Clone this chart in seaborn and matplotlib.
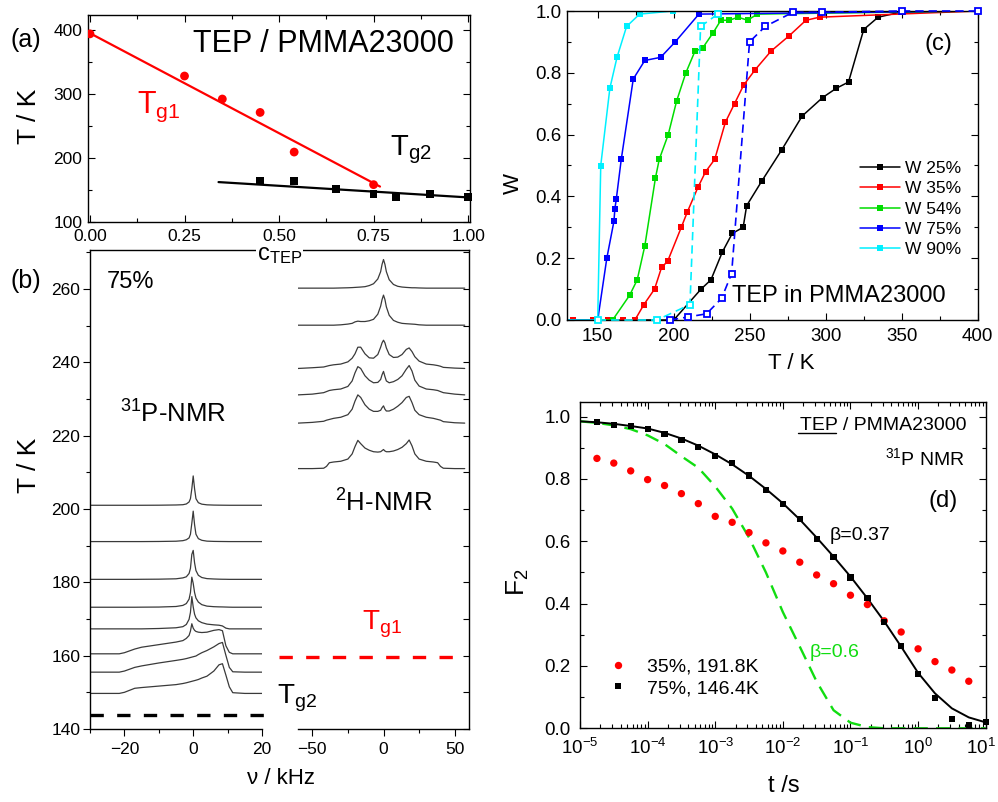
import numpy as np
import pandas as pd
import matplotlib
matplotlib.use("Agg")
import matplotlib.pyplot as plt
import matplotlib.transforms as mtransforms
import seaborn as sns
from matplotlib.ticker import MultipleLocator, FormatStrFormatter, LogLocator, NullFormatter
from matplotlib.lines import Line2D

# ------------------------------------------------------------------ data
# (a) glass transition temperatures vs TEP concentration
c_tg1 = [0.0, 0.25, 0.35, 0.45, 0.54, 0.75]
T_tg1 = [394, 328, 292, 271, 209, 158]
c_tg2 = [0.45, 0.54, 0.65, 0.75, 0.81, 0.90, 1.00]
T_tg2 = [164, 164, 151, 143, 139, 143, 139]
c_fit1 = [0.0, 0.767]
T_fit1 = [395, 155]
c_fit2 = [0.34, 1.0]
T_fit2 = [162, 138]

# (b) 31P spectra (75 %)
nu_p = [-30, -21.5, -20, -17, -15, -10, -5, -3, -2, -1.2, -0.8, -0.4, 0, 0.4, 0.8,
        1.5, 2.5, 4, 6, 7.5, 8.5, 9.5, 10.5, 11.5, 15, 20]
p_T = [201.0, 191.1, 180.8, 173.2, 167.3, 160.5, 155.5, 149.7]
p_I1 = [0, 0, 0, 0, 0, 0.02, 0.08, 0.15, 0.35, 0.9, 1.8, 4.5, 8.0, 4.5, 1.8, 0.7, 0.3, 0.12, 0.05, 0.03, 0.02, 0.01, 0, 0, 0, 0]
p_I2 = [0, 0, 0, 0, 0, 0.03, 0.1, 0.25, 0.5, 1.0, 2.0, 5.0, 8.3, 4.6, 2.0, 0.8, 0.35, 0.12, 0.05, 0.03, 0.02, 0.01, 0, 0, 0, 0]
p_I3 = [0, 0, 0, 0, 0.02, 0.05, 0.15, 0.4, 0.7, 1.6, 3.0, 6.8, 7.9, 4.5, 2.4, 1.1, 0.5, 0.2, 0.1, 0.05, 0.03, 0.02, 0, 0, 0, 0]
p_I4 = [0, 0, 0, 0, 0.02, 0.05, 0.2, 0.5, 1.0, 2.2, 4.0, 8.2, 6.5, 4.0, 2.5, 1.4, 0.7, 0.3, 0.15, 0.1, 0.08, 0.05, 0.02, 0, 0, 0]
p_I5 = [0, 0, 0, 0, 0, 0.1, 0.3, 0.6, 1.2, 2.6, 4.5, 8.8, 6.0, 4.0, 3.0, 2.2, 1.7, 1.3, 1.1, 1.0, 0.8, 0.2, 0, 0, 0, 0]
p_I6 = [0, 0, 0.3, 1.3, 1.8, 2.5, 3.2, 3.6, 4.2, 5.0, 6.2, 8.2, 7.0, 6.4, 6.1, 5.9, 5.8, 5.9, 6.4, 6.6, 6.3, 2.2, 0.4, 0, 0, 0]
p_I7 = [0, 0, 0.3, 1.3, 1.7, 2.5, 3.2, 3.5, 3.7, 3.9, 4.0, 4.1, 4.2, 4.3, 4.4, 4.8, 5.3, 5.9, 6.9, 7.8, 8.1, 4.6, 1.3, 0.1, 0, 0]
p_I8 = [0, 0, 0.3, 1.4, 1.6, 2.0, 2.4, 2.7, 2.9, 3.1, 3.2, 3.3, 3.4, 3.5, 3.6, 3.8, 4.2, 4.7, 6.1, 7.8, 8.1, 5.0, 1.8, 0.2, 0, 0]

# (b) 2H spectra
nu_h = [-60, -50, -42, -40, -38, -35, -30, -25, -22, -20, -18, -16, -13, -10, -7, -4, -2, -1, 0,
        1, 2, 4, 7, 10, 13, 16, 18, 20, 22, 25, 30, 35, 38, 40, 42, 50, 57]
h_T = [260.2, 250.1, 238.3, 231.1, 223.4, 211.0]
h_I1 = [0, 0, 0, 0, 0, 0, 0.05, 0.1, 0.15, 0.2, 0.25, 0.3, 0.4, 0.7, 1.2, 2.5, 4.5, 6.5, 7.8, 6.5, 4.5, 2.3, 1.0, 0.5, 0.3, 0.2, 0.15, 0.1, 0.1, 0.05, 0, 0, 0, 0, 0, 0, 0]
h_I2 = [0, 0, 0, 0, 0, 0, 0.1, 0.3, 0.5, 0.9, 1.1, 1.0, 1.0, 1.2, 1.6, 3.0, 5.2, 7.0, 8.2, 7.0, 5.0, 2.7, 1.3, 0.8, 0.5, 0.4, 0.35, 0.3, 0.25, 0.1, 0, 0, 0, 0, 0, 0, 0]
h_I3 = [0, 0.2, 0.4, 0.6, 0.8, 1.0, 1.2, 1.8, 2.8, 4.0, 5.8, 5.8, 4.0, 2.9, 2.8, 3.8, 5.8, 7.0, 7.7, 7.0, 5.6, 3.8, 3.0, 3.1, 3.8, 5.2, 5.6, 4.6, 3.2, 2.0, 1.2, 1.0, 0.8, 0.6, 0.3, 0.1, 0]
h_I4 = [0, 0.2, 0.6, 0.9, 1.2, 1.4, 1.6, 2.3, 3.8, 6.0, 7.7, 7.2, 5.2, 4.0, 3.3, 3.4, 4.2, 5.5, 6.4, 5.0, 3.8, 3.3, 3.6, 4.2, 5.2, 7.0, 8.0, 6.5, 4.0, 2.4, 1.6, 1.4, 1.2, 0.9, 0.6, 0.2, 0]
h_I5 = [0, 0.2, 0.5, 0.8, 1.0, 1.3, 1.6, 2.3, 3.8, 6.0, 7.7, 7.0, 5.0, 3.8, 3.2, 3.2, 3.5, 4.2, 4.7, 3.8, 3.3, 3.3, 3.8, 4.6, 5.6, 7.0, 7.3, 5.6, 3.5, 2.3, 1.6, 1.3, 1.0, 0.8, 0.4, 0.1, 0]
h_I6 = [0, 0, 0.1, 0.6, 1.6, 1.8, 2.0, 2.6, 4.0, 6.0, 7.7, 6.8, 5.6, 5.0, 4.6, 4.5, 4.6, 4.9, 5.2, 4.8, 4.6, 4.6, 4.8, 5.2, 5.8, 6.8, 7.8, 6.2, 4.0, 2.6, 2.0, 1.8, 1.6, 0.6, 0.1, 0, 0]

Tg2_level = 143.8
Tg2_span = [-30, 23]
Tg1_level = 159.7
Tg1_span = [-73, 56]

# (c) fraction W of fast TEP
T25 = [130, 200, 218, 224.5, 232, 238.5, 245.7, 248, 258, 271, 284.5, 298, 307, 315, 325, 334.5, 350, 400]
W25 = [0, 0.0, 0.10, 0.13, 0.22, 0.28, 0.30, 0.37, 0.45, 0.55, 0.66, 0.72, 0.75, 0.77, 0.94, 0.98, 0.997, 1.0]
T35 = [130, 134, 147, 157, 166.5, 174.5, 180.4, 187.4, 192, 196, 205, 209, 216, 221, 227, 234, 240, 246,
       253.6, 264, 276, 287, 296, 400]
W35 = [0, 0, 0, 0, 0, 0, 0.05, 0.10, 0.17, 0.19, 0.30, 0.35, 0.43, 0.48, 0.52, 0.64, 0.70, 0.76,
       0.81, 0.87, 0.92, 0.97, 0.98, 1.0]
T54 = [130, 159.8, 171, 176, 181, 188, 190.5, 196.4, 202, 208, 214, 219, 226, 231, 236.5, 242.4, 248.6, 255, 400]
W54 = [0, 0, 0.08, 0.13, 0.24, 0.46, 0.52, 0.60, 0.71, 0.80, 0.87, 0.88, 0.93, 0.97, 0.97, 0.98, 0.97, 0.99, 1.0]
T75 = [130, 150, 156, 160.7, 161.3, 162.2, 165.5, 173.4, 181, 191.4, 201, 216.6, 400]
W75 = [0, 0, 0.20, 0.32, 0.36, 0.39, 0.52, 0.78, 0.84, 0.85, 0.90, 0.99, 1.0]
T90 = [130, 150, 152, 158, 162.7, 169, 177.6, 199.6, 400]
W90 = [0, 0.0, 0.50, 0.75, 0.85, 0.95, 0.99, 1.0, 1.0]
T75_open = [197.5, 209.6, 221.6, 231.5, 238.1, 249.9, 260.2, 278.5, 297.7, 350, 400]
W75_open = [0.0, 0.01, 0.02, 0.07, 0.15, 0.90, 0.95, 0.996, 0.996, 1.0, 1.0]
T90_open = [150, 189, 210.7, 217.7, 229]
W90_open = [0.0, 0.0, 0.05, 0.95, 0.99]
legend_c = ["W 25%", "W 35%", "W 54%", "W 75%", "W 90%"]

# (d) stimulated-echo decays F2(t)
t_pts = [1.78e-5, 3.16e-5, 5.62e-5, 1e-4, 1.78e-4, 3.16e-4, 5.62e-4, 1e-3, 1.78e-3, 3.16e-3,
         5.62e-3, 1e-2, 1.78e-2, 3.16e-2, 5.62e-2, 1e-1, 1.78e-1, 3.16e-1, 5.62e-1, 1.0,
         1.78, 3.16, 5.62, 10.0]
F_75 = [0.982, 0.974, 0.971, 0.960, 0.944, 0.925, 0.903, 0.874, 0.852, 0.811, 0.765, 0.719,
        0.671, 0.607, 0.549, 0.484, 0.418, 0.342, 0.264, 0.173, 0.096, 0.031, 0.009, 0.019]
F_35 = [0.866, 0.851, 0.826, 0.798, 0.779, 0.753, 0.721, 0.680, 0.661, 0.628, 0.595, 0.569,
        0.533, 0.492, 0.464, 0.427, 0.397, 0.345, 0.309, 0.255, 0.214, 0.187, 0.151]
t_fit = [1e-5, 1.78e-5, 3.16e-5, 5.62e-5, 1e-4, 1.78e-4, 3.16e-4, 5.62e-4, 1e-3, 1.78e-3, 3.16e-3,
         5.62e-3, 1e-2, 1.78e-2, 3.16e-2, 5.62e-2, 1e-1, 1.78e-1, 3.16e-1, 5.62e-1, 1.0, 1.78,
         3.16, 5.62, 10.0]
F_fit037 = [0.985, 0.982, 0.977, 0.970, 0.962, 0.948, 0.930, 0.907, 0.879, 0.847, 0.810, 0.768,
            0.722, 0.670, 0.612, 0.551, 0.487, 0.417, 0.343, 0.262, 0.178, 0.112, 0.064, 0.035, 0.019]
F_fit06 = [0.985, 0.980, 0.972, 0.960, 0.940, 0.912, 0.873, 0.836, 0.776, 0.705, 0.612, 0.500,
           0.373, 0.262, 0.150, 0.058, 0.018, 0.004, 0.0, 0.0, 0.0, 0.0, 0.0, 0.0, 0.0]
legend_d = ["35%, 191.8K", "75%, 146.4K"]
t_decades = [-5, -4, -3, -2, -1, 0, 1]

# ------------------------------------------------------------------ style
sns.set_theme(style="ticks")
plt.rcParams.update({
    "font.family": ["Liberation Sans", "DejaVu Sans"],
    "mathtext.fontset": "custom",
    "mathtext.rm": "Liberation Sans",
    "mathtext.it": "Liberation Sans:italic",
    "mathtext.bf": "Liberation Sans:bold",
    "mathtext.default": "regular",
    "axes.edgecolor": "black",
    "axes.labelcolor": "black",
    "text.color": "black",
    "xtick.color": "black",
    "ytick.color": "black",
    "axes.facecolor": "white",
    "figure.facecolor": "white",
})

W, H = 998, 802
fig = plt.figure(figsize=(W / 100, H / 100), dpi=100)


def fx(x):
    return x / W


def fy(y):
    return 1 - y / H


def rect(l, t, r, b):
    return [fx(l), fy(b), (r - l) / W, (b - t) / H]


def inward(ax, lsize):
    ax.tick_params(which="both", direction="in", top=True, right=True, bottom=True, left=True,
                   labelsize=lsize, width=0.8, colors="black")
    ax.tick_params(which="major", length=5)
    ax.tick_params(which="minor", length=2.8)
    for s in ax.spines.values():
        s.set_color("black")
        s.set_linewidth(1.0)


# ------------------------------------------------------------------ (b) spectra
ax_bl = fig.add_axes(rect(90, 250, 262, 729))
ax_br = fig.add_axes(rect(298, 250, 469, 729))
spec_col = "#3a3a3a"
for T0, I in zip(p_T, [p_I1, p_I2, p_I3, p_I4, p_I5, p_I6, p_I7, p_I8]):
    sns.lineplot(x=nu_p, y=np.array(I) + T0, ax=ax_bl, color=spec_col, lw=0.9,
                 estimator=None, sort=False)
for T0, I in zip(h_T, [h_I1, h_I2, h_I3, h_I4, h_I5, h_I6]):
    sns.lineplot(x=nu_h, y=np.array(I) + T0, ax=ax_br, color=spec_col, lw=0.9,
                 estimator=None, sort=False)
ax_bl.plot(Tg2_span, [Tg2_level] * 2, color="black", lw=2.4, dashes=(4, 4), clip_on=False)
ax_br.plot(Tg1_span, [Tg1_level] * 2, color="red", lw=2.4, dashes=(4, 4), clip_on=False)

for ax in (ax_bl, ax_br):
    ax.set_ylim(140, 270.6)
    ax.set_xlabel("")
    ax.set_ylabel("")
    for s in ax.spines.values():
        s.set_color("black")
        s.set_linewidth(1.0)
ax_bl.set_xlim(-30, 20)
ax_br.set_xlim(-60, 60)
ax_bl.spines["right"].set_visible(False)
ax_br.spines["left"].set_visible(False)
ax_bl.xaxis.set_major_locator(MultipleLocator(20))
ax_bl.xaxis.set_minor_locator(MultipleLocator(10))
ax_bl.yaxis.set_major_locator(MultipleLocator(20))
ax_bl.yaxis.set_minor_locator(MultipleLocator(10))
ax_bl.tick_params(which="both", direction="out", top=False, right=False, labelsize=12.5, width=0.8)
ax_bl.tick_params(which="major", length=5)
ax_bl.tick_params(which="minor", length=3)
ax_bl.tick_params(axis="x", pad=4)
ax_bl.tick_params(axis="y", pad=2)
ax_br.xaxis.set_major_locator(MultipleLocator(50))
ax_br.xaxis.set_minor_locator(MultipleLocator(25))
ax_br.yaxis.set_major_locator(MultipleLocator(10))
ax_br.yaxis.tick_right()
ax_br.tick_params(axis="y", which="both", direction="in", left=False, right=True,
                  labelright=False, labelleft=False, length=4, width=0.8)
ax_br.tick_params(axis="x", which="both", direction="out", top=False, labelsize=12.5, width=0.8, pad=4)
ax_br.tick_params(axis="x", which="major", length=5)
ax_br.tick_params(axis="x", which="minor", length=3)

# ------------------------------------------------------------------ (a)
ax_a = fig.add_axes(rect(87.7, 15, 470, 221.7))
sns.lineplot(x=c_fit1, y=T_fit1, ax=ax_a, color="red", lw=1.6, estimator=None, sort=False)
sns.lineplot(x=c_fit2, y=T_fit2, ax=ax_a, color="black", lw=1.6, estimator=None, sort=False)
sns.scatterplot(x=c_tg1, y=T_tg1, ax=ax_a, color="red", marker="o", s=40, edgecolor="none", zorder=4)
sns.scatterplot(x=c_tg2, y=T_tg2, ax=ax_a, color="black", marker="s", s=30, edgecolor="none", zorder=4,
                clip_on=False)
ax_a.set_xlim(-0.006, 1.005)
ax_a.set_ylim(100, 423.5)
ax_a.set_xlabel("")
ax_a.set_ylabel("")
ax_a.xaxis.set_major_locator(MultipleLocator(0.25))
ax_a.xaxis.set_minor_locator(MultipleLocator(0.125))
ax_a.xaxis.set_major_formatter(FormatStrFormatter("%.2f"))
ax_a.yaxis.set_major_locator(MultipleLocator(100))
ax_a.yaxis.set_minor_locator(MultipleLocator(50))
inward(ax_a, 12.5)
ax_a.tick_params(axis="x", pad=5)
ax_a.tick_params(axis="y", pad=4)

# ------------------------------------------------------------------ (c)
ax_c = fig.add_axes(rect(567.3, 11, 977.7, 320))
col_c = ["black", "red", "#00dd00", "blue", "#00f0ff"]
for (Tx, Wy), col in zip([(T25, W25), (T35, W35), (T54, W54), (T75, W75), (T90, W90)], col_c):
    sns.lineplot(x=Tx, y=Wy, ax=ax_c, color=col, lw=1.1, marker="s", markersize=3.8,
                 markeredgewidth=0, markevery=list(range(1, len(Tx) - 1)),
                 estimator=None, sort=False)
ax_c.plot(T90_open, W90_open, color="#00f0ff", lw=1.2, dashes=(5, 3), marker="s", ms=5,
          mfc="white", mec="#00f0ff", mew=1.3, clip_on=False, zorder=3)
ax_c.plot(T75_open, W75_open, color="blue", lw=1.2, dashes=(5, 3), marker="s", ms=5,
          mfc="white", mec="blue", mew=1.3, clip_on=False, zorder=3)
ax_c.set_xlim(130, 400)
ax_c.set_ylim(0, 1)
ax_c.set_xlabel("")
ax_c.set_ylabel("")
ax_c.xaxis.set_major_locator(MultipleLocator(50))
ax_c.xaxis.set_minor_locator(MultipleLocator(25))
ax_c.yaxis.set_major_locator(MultipleLocator(0.2))
ax_c.yaxis.set_minor_locator(MultipleLocator(0.1))
ax_c.yaxis.set_major_formatter(FormatStrFormatter("%.1f"))
inward(ax_c, 13.5)
ax_c.tick_params(axis="x", pad=6)
ax_c.tick_params(axis="y", pad=4)
handles_c = [Line2D([], [], color=col, lw=1.1, marker="s", ms=4.5, mew=0) for col in col_c]
ax_c.legend(handles_c, legend_c, loc="upper left", bbox_to_anchor=(0.713, 0.515), frameon=False,
            fontsize=12.5, borderpad=0, handlelength=2.3, handletextpad=0.3, labelspacing=0.3,
            borderaxespad=0)

# ------------------------------------------------------------------ (d)
ax_d = fig.add_axes(rect(580, 401.7, 985.7, 728.3))
ax_d.set_xscale("log")
ax_d.plot(t_fit, F_fit06, color="#11dd11", lw=1.7, dashes=(6, 3.5), zorder=2)
sns.lineplot(x=t_fit, y=F_fit037, ax=ax_d, color="black", lw=1.4, estimator=None, sort=False, zorder=3)
sns.scatterplot(x=t_pts[:len(F_35)], y=F_35, ax=ax_d, color="red", marker="o", s=28, edgecolor="none",
                zorder=4, clip_on=False)
sns.scatterplot(x=t_pts, y=F_75, ax=ax_d, color="black", marker="s", s=20, edgecolor="none",
                zorder=5, clip_on=False)
ax_d.set_xlim(1e-5, 10)
ax_d.set_ylim(0, 1.048)
ax_d.set_xlabel("")
ax_d.set_ylabel("")
ax_d.set_xticks([10.0 ** e for e in t_decades], [r"$10^{%d}$" % e for e in t_decades])
ax_d.xaxis.set_minor_locator(LogLocator(base=10, subs=np.arange(2, 10), numticks=100))
ax_d.xaxis.set_minor_formatter(NullFormatter())
ax_d.set_xlim(1e-5, 10)
ax_d.yaxis.set_major_locator(MultipleLocator(0.2))
ax_d.yaxis.set_minor_locator(MultipleLocator(0.1))
ax_d.yaxis.set_major_formatter(FormatStrFormatter("%.1f"))
inward(ax_d, 13.5)
ax_d.tick_params(axis="x", pad=7)
ax_d.tick_params(axis="y", pad=7)
last_lab = ax_d.get_xticklabels()[-1]
last_lab.set_transform(last_lab.get_transform() +
                       mtransforms.ScaledTranslation(-5 / 100, 0, fig.dpi_scale_trans))
handles_d = [Line2D([], [], ls="none", marker="o", color="red", ms=5.3, mew=0),
             Line2D([], [], ls="none", marker="s", color="black", ms=4.3, mew=0)]
ax_d.legend(handles_d, legend_d, loc="upper left", bbox_to_anchor=(0.069, 0.215), frameon=False,
            fontsize=14, borderpad=0, handlelength=1.0, handletextpad=1.0, labelspacing=0.2,
            borderaxespad=0)

# ------------------------------------------------------------------ texts
ft = fig.text
# (a)
ft(fx(10), fy(40), "(a)", fontsize=18, ha="left", va="center")
ft(fx(193), fy(52), "TEP / PMMA23000", fontsize=22, ha="left", va="baseline")
ft(fx(137), fy(113), r"T$_{\rm g1}$", fontsize=22, color="red", ha="left", va="baseline")
ft(fx(390), fy(155), r"T$_{\rm g2}$", fontsize=21, ha="left", va="baseline")
ft(fx(29), fy(116), "T / K", fontsize=19, rotation=90, ha="center", va="center")
ft(fx(257), fy(260), r"c$_{\rm TEP}$", fontsize=17, ha="left", va="baseline",
   bbox=dict(fc="white", ec="none", pad=0.5))
# (b)
ft(fx(10), fy(281), "(b)", fontsize=18, ha="left", va="center")
ft(fx(107), fy(288), "75%", fontsize=17, ha="left", va="baseline")
ft(fx(120), fy(423), r"$^{31}$P-NMR", fontsize=18.5, ha="left", va="baseline")
ft(fx(335), fy(512), r"$^{2}$H-NMR", fontsize=18.5, ha="left", va="baseline")
ft(fx(362), fy(630), r"T$_{\rm g1}$", fontsize=20, color="red", ha="left", va="baseline")
ft(fx(277), fy(703), r"T$_{\rm g2}$", fontsize=20, ha="left", va="baseline")
ft(fx(29), fy(465), "T / K", fontsize=19, rotation=90, ha="center", va="center")
ft(fx(281), fy(778), "\u03bd / kHz", fontsize=16, ha="center", va="center")
# (c)
ft(fx(925), fy(44), "(c)", fontsize=17, ha="left", va="center")
ft(fx(732), fy(302), "TEP in PMMA23000", fontsize=17, ha="left", va="baseline")
ft(fx(513), fy(183), "W", fontsize=16, rotation=90, ha="center", va="center")
ft(fx(791), fy(364), "T / K", fontsize=16, ha="center", va="center")
# (d)
ft(fx(967), fy(430), "TEP / PMMA23000", fontsize=14, ha="right", va="baseline")
fig.add_artist(Line2D([fx(798), fx(836)], [fy(433), fy(433)], color="black", lw=1.0,
                      transform=fig.transFigure))
ft(fx(965), fy(465), r"$^{31}$P NMR", fontsize=14, ha="right", va="baseline")
ft(fx(928), fy(501), "(d)", fontsize=17, ha="left", va="center")
ft(fx(830), fy(540), "\u03b2=0.37", fontsize=14, ha="left", va="baseline")
ft(fx(810), fy(657), "\u03b2=0.6", fontsize=14, color="#11dd11", ha="left", va="baseline")
ft(fx(518), fy(582), r"F$_2$", fontsize=19, rotation=90, ha="center", va="center")
ft(fx(784), fy(786), "t /s", fontsize=17, ha="center", va="center")

fig.savefig("out.png", dpi=100)
